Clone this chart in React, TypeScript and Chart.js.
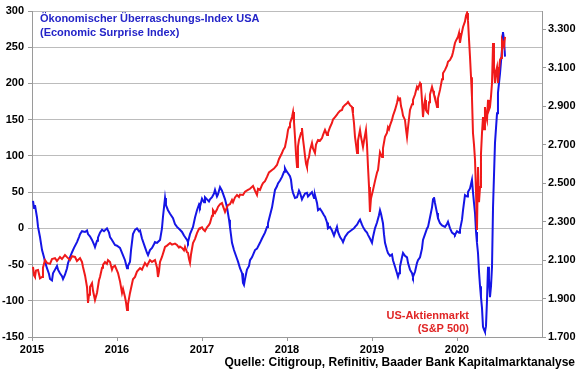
import React, { useEffect, useRef } from 'react';
import { Chart, registerables } from 'chart.js';

Chart.register(...registerables);

// ---------- data ----------
const yearTicks = [2015, 2016, 2017, 2018, 2019, 2020];
const leftTicks = [-150, -100, -50, 0, 50, 100, 150, 200, 250, 300];
const rightTicks = [1700, 1900, 2100, 2300, 2500, 2700, 2900, 3100, 3300];

const titleLines = ['Ökonomischer Überraschungs-Index USA', '(Economic Surprise Index)'];
const spxLabelLines = ['US-Aktienmarkt', '(S&P 500)'];
const sourceText = 'Quelle: Citigroup, Refinitiv, Baader Bank Kapitalmarktanalyse';

// Economic Surprise Index (left axis)
const surpriseDates = [
  2015.012, 2015.024, 2015.035, 2015.059, 2015.071, 2015.094, 2015.118, 2015.141, 2015.153, 2015.176, 2015.200, 2015.212, 2015.235, 2015.247, 2015.271, 2015.294, 2015.306, 2015.329, 2015.353, 2015.365, 2015.388, 2015.412, 2015.424, 2015.447, 2015.471, 2015.494, 2015.529, 2015.553, 2015.565, 2015.588, 2015.624, 2015.647, 2015.659, 2015.682, 2015.706, 2015.729, 2015.741, 2015.765, 2015.776, 2015.800, 2015.824, 2015.847, 2015.882, 2015.906, 2015.918, 2015.941, 2015.976,
  2016.000, 2016.035, 2016.059, 2016.094, 2016.118, 2016.129, 2016.153, 2016.165, 2016.188, 2016.212, 2016.235, 2016.259, 2016.271, 2016.294, 2016.329, 2016.353, 2016.365, 2016.388, 2016.412, 2016.435, 2016.447, 2016.471, 2016.506, 2016.529, 2016.541, 2016.565, 2016.576, 2016.600, 2016.624, 2016.659, 2016.682, 2016.706, 2016.741, 2016.765, 2016.788, 2016.800, 2016.824, 2016.835, 2016.859, 2016.894, 2016.918, 2016.941, 2016.965, 2016.976,
  2017.000, 2017.024, 2017.035, 2017.059, 2017.082, 2017.094, 2017.118, 2017.141, 2017.153, 2017.176, 2017.188, 2017.212, 2017.235, 2017.247, 2017.271, 2017.294, 2017.318, 2017.329, 2017.353, 2017.376, 2017.388, 2017.412, 2017.424, 2017.447, 2017.471, 2017.482, 2017.494, 2017.506, 2017.529, 2017.553, 2017.565, 2017.588, 2017.624, 2017.647, 2017.682, 2017.706, 2017.741, 2017.765, 2017.776, 2017.800, 2017.824, 2017.847, 2017.859, 2017.882, 2017.894, 2017.918, 2017.941, 2017.965, 2017.976, 2017.988,
  2018.012, 2018.035, 2018.047, 2018.059, 2018.071, 2018.094, 2018.118, 2018.141, 2018.153, 2018.176, 2018.188, 2018.212, 2018.235, 2018.247, 2018.271, 2018.294, 2018.318, 2018.329, 2018.353, 2018.365, 2018.388, 2018.412, 2018.435, 2018.447, 2018.471, 2018.482, 2018.506, 2018.529, 2018.553, 2018.565, 2018.588, 2018.600, 2018.624, 2018.647, 2018.659, 2018.682, 2018.706, 2018.718, 2018.741, 2018.765, 2018.788, 2018.800, 2018.824, 2018.847, 2018.859, 2018.882, 2018.894, 2018.918, 2018.941, 2018.953, 2018.976,
  2019.000, 2019.012, 2019.035, 2019.059, 2019.082, 2019.094, 2019.106, 2019.129, 2019.141, 2019.153, 2019.176, 2019.188, 2019.212, 2019.235, 2019.247, 2019.271, 2019.294, 2019.306, 2019.318, 2019.329, 2019.353, 2019.365, 2019.388, 2019.412, 2019.424, 2019.447, 2019.471, 2019.482, 2019.506, 2019.529, 2019.541, 2019.565, 2019.588, 2019.600, 2019.624, 2019.647, 2019.659, 2019.682, 2019.706, 2019.718, 2019.729, 2019.741, 2019.765, 2019.776, 2019.800, 2019.824, 2019.859, 2019.882, 2019.894, 2019.918, 2019.941, 2019.965, 2019.976,
  2020.000, 2020.024, 2020.035, 2020.059, 2020.071, 2020.094, 2020.118, 2020.129, 2020.153, 2020.176, 2020.188, 2020.200, 2020.212, 2020.224, 2020.235, 2020.247, 2020.259, 2020.271, 2020.282, 2020.294, 2020.306, 2020.318, 2020.329, 2020.341, 2020.353, 2020.365, 2020.376, 2020.388, 2020.400, 2020.412, 2020.424, 2020.447, 2020.471, 2020.482, 2020.506, 2020.529, 2020.541, 2020.553, 2020.565,
];
const surpriseValues = [
  38, 28, 32, 15, 2, -12, -30, -40, -46, -55, -63, -70, -72, -62, -57, -52, -57, -62, -66, -70, -64, -55, -48, -40, -33, -27, -19, -12, -8, -4, -5, -3, -8, -11, -16, -22, -26, -17, -13, -6, -2, -4, 0, -6, -12, -16, -23,
  -24, -27, -34, -44, -55, -52, -46, -30, -8, -2, 0, -4, -3, -14, -26, -34, -37, -30, -27, -22, -19, -20, -16, 0, 16, 42, 32, 25, 20, 14, 6, 2, -2, -5, -10, -12, -16, -19, -8, 2, 15, 25, 33, 30,
  41, 36, 43, 40, 37, 40, 43, 48, 53, 44, 47, 57, 52, 48, 40, 29, 12, 2, -20, -30, -34, -42, -46, -55, -62, -75, -78, -70, -57, -52, -44, -40, -30, -28, -20, -14, -6, 2, 7, 18, 29, 45, 53, 58, 62, 66, 71, 78, 83, 80,
  76, 72, 67, 55, 49, 42, 43, 52, 49, 40, 43, 48, 49, 44, 47, 50, 42, 46, 35, 25, 27, 23, 18, 16, 8, 0, 2, -3, -10, -6, 2, -5, -12, -16, -19, -12, -8, -6, -4, -2, 0, 2, 5, 10, 12, 5, 2, -3, -6, -9, -14,
  -20, -12, 0, 8, 18, 25, 20, 7, -8, -20, -30, -34, -38, -36, -44, -53, -62, -67, -62, -53, -40, -34, -38, -40, -48, -57, -62, -67, -60, -48, -44, -40, -28, -16, -8, 0, 2, 15, 29, 40, 43, 35, 21, 14, 7, 4, 2, 6, 9, 0, -6, -8, -9,
  -4, -6, -2, 12, 25, 46, 44, 50, 55, 67, 50, 35, 21, -5, -20, -34, -60, -80, -95, -110, -136, -140, -143, -135, -99, -53, -70, -95, -80, -53, 30, 118, 159, 187, 214, 246, 271, 260, 237,
];

// S&P 500 (right axis)
const spxDates = [
  2015.012, 2015.024, 2015.035, 2015.047, 2015.071, 2015.094, 2015.118, 2015.129, 2015.153, 2015.176, 2015.212, 2015.235, 2015.271, 2015.294, 2015.329, 2015.353, 2015.388, 2015.412, 2015.447, 2015.471, 2015.506, 2015.529, 2015.565, 2015.588, 2015.600, 2015.624, 2015.647, 2015.659, 2015.671, 2015.682, 2015.706, 2015.718, 2015.741, 2015.765, 2015.788, 2015.800, 2015.824, 2015.835, 2015.859, 2015.882, 2015.894, 2015.918, 2015.941, 2015.953, 2015.976,
  2016.000, 2016.012, 2016.035, 2016.059, 2016.071, 2016.094, 2016.106, 2016.118, 2016.129, 2016.153, 2016.176, 2016.188, 2016.212, 2016.235, 2016.271, 2016.294, 2016.329, 2016.353, 2016.388, 2016.412, 2016.447, 2016.471, 2016.482, 2016.494, 2016.506, 2016.529, 2016.553, 2016.565, 2016.588, 2016.624, 2016.647, 2016.682, 2016.706, 2016.729, 2016.741, 2016.765, 2016.788, 2016.800, 2016.824, 2016.835, 2016.847, 2016.859, 2016.871, 2016.894, 2016.918, 2016.941, 2016.965, 2016.976,
  2017.000, 2017.012, 2017.035, 2017.059, 2017.082, 2017.094, 2017.118, 2017.129, 2017.153, 2017.176, 2017.188, 2017.212, 2017.235, 2017.247, 2017.271, 2017.294, 2017.306, 2017.329, 2017.353, 2017.365, 2017.388, 2017.412, 2017.435, 2017.447, 2017.482, 2017.506, 2017.541, 2017.565, 2017.588, 2017.600, 2017.624, 2017.647, 2017.659, 2017.682, 2017.706, 2017.718, 2017.741, 2017.765, 2017.788, 2017.824, 2017.847, 2017.882, 2017.906, 2017.941, 2017.953, 2017.976,
  2018.000, 2018.012, 2018.024, 2018.035, 2018.059, 2018.071, 2018.082, 2018.094, 2018.106, 2018.118, 2018.129, 2018.141, 2018.165, 2018.176, 2018.188, 2018.200, 2018.212, 2018.224, 2018.235, 2018.247, 2018.259, 2018.271, 2018.294, 2018.306, 2018.329, 2018.341, 2018.365, 2018.388, 2018.412, 2018.424, 2018.447, 2018.471, 2018.482, 2018.506, 2018.529, 2018.541, 2018.565, 2018.588, 2018.600, 2018.624, 2018.647, 2018.659, 2018.682, 2018.706, 2018.718, 2018.741, 2018.765, 2018.776, 2018.788, 2018.800, 2018.812, 2018.824, 2018.835, 2018.859, 2018.871, 2018.894, 2018.906, 2018.929, 2018.941, 2018.953, 2018.965, 2018.976, 2018.988,
  2019.012, 2019.035, 2019.059, 2019.071, 2019.094, 2019.118, 2019.129, 2019.153, 2019.176, 2019.188, 2019.200, 2019.212, 2019.235, 2019.247, 2019.271, 2019.294, 2019.306, 2019.318, 2019.329, 2019.341, 2019.353, 2019.365, 2019.388, 2019.400, 2019.412, 2019.424, 2019.447, 2019.471, 2019.482, 2019.506, 2019.529, 2019.541, 2019.565, 2019.576, 2019.588, 2019.600, 2019.612, 2019.624, 2019.635, 2019.647, 2019.659, 2019.671, 2019.682, 2019.706, 2019.718, 2019.729, 2019.741, 2019.753, 2019.765, 2019.776, 2019.800, 2019.824, 2019.835, 2019.859, 2019.882, 2019.894, 2019.918, 2019.941, 2019.953, 2019.976, 2019.988,
  2020.000, 2020.012, 2020.024, 2020.035, 2020.047, 2020.071, 2020.094, 2020.106, 2020.118, 2020.129, 2020.141, 2020.153, 2020.165, 2020.176, 2020.188, 2020.200, 2020.212, 2020.224, 2020.235, 2020.247, 2020.259, 2020.271, 2020.282, 2020.294, 2020.306, 2020.318, 2020.329, 2020.341, 2020.353, 2020.365, 2020.376, 2020.388, 2020.400, 2020.412, 2020.424, 2020.435, 2020.447, 2020.459, 2020.471, 2020.482, 2020.494, 2020.506, 2020.518, 2020.529, 2020.541, 2020.553, 2020.565,
];
const spxValues = [
  2064, 2020, 2012, 2045, 2048, 2005, 2012, 2060, 2100, 2085, 2080, 2105, 2110, 2095, 2116, 2105, 2126, 2115, 2100, 2120, 2116, 2095, 2110, 2090, 2064, 2020, 1960, 1877, 1920, 1960, 1980, 1940, 1892, 1930, 1995, 2012, 2060, 2075, 2090, 2080, 2100, 2090, 2050, 2064, 2070,
  2045, 2032, 1990, 1929, 1950, 1908, 1880, 1840, 1870, 1929, 1975, 2000, 2012, 2040, 2058, 2050, 2085, 2070, 2100, 2090, 2100, 2060, 2012, 2040, 2090, 2116, 2150, 2168, 2175, 2188, 2180, 2185, 2178, 2165, 2170, 2163, 2150, 2168, 2140, 2137, 2105, 2085, 2130, 2188, 2210, 2240, 2262, 2266,
  2270, 2260, 2250, 2270, 2282, 2292, 2330, 2360, 2344, 2362, 2376, 2390, 2396, 2380, 2350, 2375, 2386, 2390, 2412, 2400, 2425, 2438, 2428, 2440, 2438, 2455, 2464, 2470, 2480, 2485, 2460, 2438, 2470, 2464, 2490, 2500, 2510, 2532, 2555, 2568, 2575, 2594, 2625, 2656, 2670, 2687,
  2740, 2776, 2790, 2810, 2843, 2869, 2820, 2739, 2650, 2583, 2690, 2724, 2760, 2786, 2730, 2687, 2640, 2600, 2583, 2620, 2635, 2670, 2708, 2680, 2656, 2700, 2724, 2720, 2734, 2750, 2776, 2750, 2760, 2790, 2812, 2830, 2843, 2855, 2864, 2875, 2880, 2895, 2906, 2915, 2921, 2905, 2895, 2860, 2812, 2740, 2700, 2656, 2720, 2776, 2740, 2687, 2720, 2776, 2700, 2583, 2480, 2350, 2420,
  2464, 2510, 2555, 2568, 2660, 2635, 2680, 2740, 2760, 2790, 2780, 2800, 2828, 2850, 2880, 2916, 2942, 2930, 2945, 2900, 2880, 2850, 2828, 2780, 2739, 2790, 2880, 2910, 2932, 2960, 3000, 2990, 3020, 3010, 2930, 2843, 2900, 2932, 2880, 2870, 2864, 2920, 2960, 3000, 2980, 2960, 2947, 2920, 2895, 2940, 2984, 3040, 3070, 3088, 3110, 3130, 3140, 3160, 3180, 3228, 3240,
  3250, 3260, 3280, 3228, 3260, 3311, 3340, 3370, 3384, 3347, 3250, 3155, 3050, 2947, 2760, 2700, 2620, 2448, 2256, 2583, 2400, 2480, 2650, 2760, 2843, 2780, 2895, 2850, 2828, 2932, 2880, 2895, 2950, 3020, 3228, 3100, 3020, 3080, 3103, 3020, 3080, 3140, 3150, 3244, 3228, 3210, 3260,
];

// ---------- styling ----------
const FONT = '"Liberation Sans", Arial, Helvetica, sans-serif';
const BLUE = '#1515e6';
const RED = '#f01a1a';
const GRID = '#bcbcbc';
const AXIS = '#9a9a9a';

const fmtThousands = (v: number) => {
  const th = Math.floor(v / 1000);
  const rest = String(v % 1000).padStart(3, '0');
  return th > 0 ? `${th}.${rest}` : String(v);
};

const textPlugin = {
  id: 'annotTexts',
  afterDraw(chart: any) {
    const { ctx, chartArea } = chart;
    ctx.save();
    ctx.font = `bold 11px ${FONT}`;
    ctx.textBaseline = 'middle';
    // title (blue, top-left inside plot)
    ctx.fillStyle = '#2424c8';
    ctx.textAlign = 'left';
    ctx.fillText(titleLines[0], chartArea.left + 8, chartArea.top + 8);
    ctx.fillText(titleLines[1], chartArea.left + 8, chartArea.top + 22);
    // S&P label (red, bottom right inside plot)
    ctx.fillStyle = '#e02626';
    ctx.textAlign = 'right';
    ctx.fillText(spxLabelLines[0], chartArea.right - 73, chartArea.bottom - 21);
    ctx.fillText(spxLabelLines[1], chartArea.right - 73, chartArea.bottom - 8);
    // source
    ctx.font = `bold 12px ${FONT}`;
    ctx.fillStyle = '#000';
    ctx.fillText(sourceText, chart.width - 5, chart.height - 12);
    ctx.restore();
  },
};

export default function App() {
  const canvasRef = useRef<HTMLCanvasElement | null>(null);

  useEffect(() => {
    document.body.style.margin = '0';
    const canvas = canvasRef.current;
    if (!canvas) return;

    const chart = new Chart(canvas, {
      type: 'line',
      data: {
        datasets: [
          {
            label: 'US-Aktienmarkt (S&P 500)',
            data: spxDates.map((d, i) => ({ x: d, y: spxValues[i] })),
            yAxisID: 'y2',
            borderColor: RED,
            borderWidth: 2,
            pointRadius: 0,
            tension: 0,
          },
          {
            label: 'Economic Surprise Index',
            data: surpriseDates.map((d, i) => ({ x: d, y: surpriseValues[i] })),
            yAxisID: 'y',
            borderColor: BLUE,
            borderWidth: 2,
            pointRadius: 0,
            tension: 0,
          },
        ],
      },
      options: {
        responsive: false,
        animation: false,
        devicePixelRatio: 1,
        layout: { padding: { top: 11, left: 0, right: 0, bottom: 0 } },
        plugins: {
          legend: { display: false },
          tooltip: { enabled: false },
        },
        font: { family: FONT },
        scales: {
          x: {
            type: 'linear',
            min: 2015,
            max: 2021,
            afterBuildTicks: (scale: any) => {
              scale.ticks = yearTicks.map((v) => ({ value: v }));
            },
            afterFit: (scale: any) => {
              scale.height = 38;
            },
            ticks: {
              autoSkip: false,
              maxRotation: 0,
              padding: 2,
              color: '#000',
              font: { family: FONT, size: 11, weight: 'bold' },
              callback: (v: any) => String(v),
            },
            grid: { drawOnChartArea: false, drawTicks: true, tickLength: 4, color: AXIS },
            border: { color: AXIS },
          },
          y: {
            type: 'linear',
            position: 'left',
            min: -150,
            max: 300,
            afterBuildTicks: (scale: any) => {
              scale.ticks = leftTicks.map((v) => ({ value: v }));
            },
            afterFit: (scale: any) => {
              scale.width = 32;
            },
            ticks: {
              padding: 4,
              color: '#000',
              font: { family: FONT, size: 11, weight: 'bold' },
              callback: (v: any) => String(v),
            },
            grid: { color: GRID, tickColor: AXIS, tickLength: 4 },
            border: { color: AXIS },
          },
          y2: {
            type: 'linear',
            position: 'right',
            min: 1700,
            max: 3394,
            afterBuildTicks: (scale: any) => {
              scale.ticks = rightTicks.map((v) => ({ value: v }));
            },
            afterFit: (scale: any) => {
              scale.width = 38;
            },
            ticks: {
              padding: 2,
              color: '#000',
              font: { family: FONT, size: 11, weight: 'bold' },
              callback: (v: any) => fmtThousands(Number(v)),
            },
            grid: { drawOnChartArea: false, color: AXIS, tickLength: 4 },
            border: { color: AXIS },
          },
        },
      } as any,
      plugins: [textPlugin],
    });

    return () => chart.destroy();
  }, []);

  return (
    <div style={{ width: 580, height: 375, background: '#fff' }}>
      <canvas ref={canvasRef} width={580} height={375} style={{ display: 'block' }} />
    </div>
  );
}
